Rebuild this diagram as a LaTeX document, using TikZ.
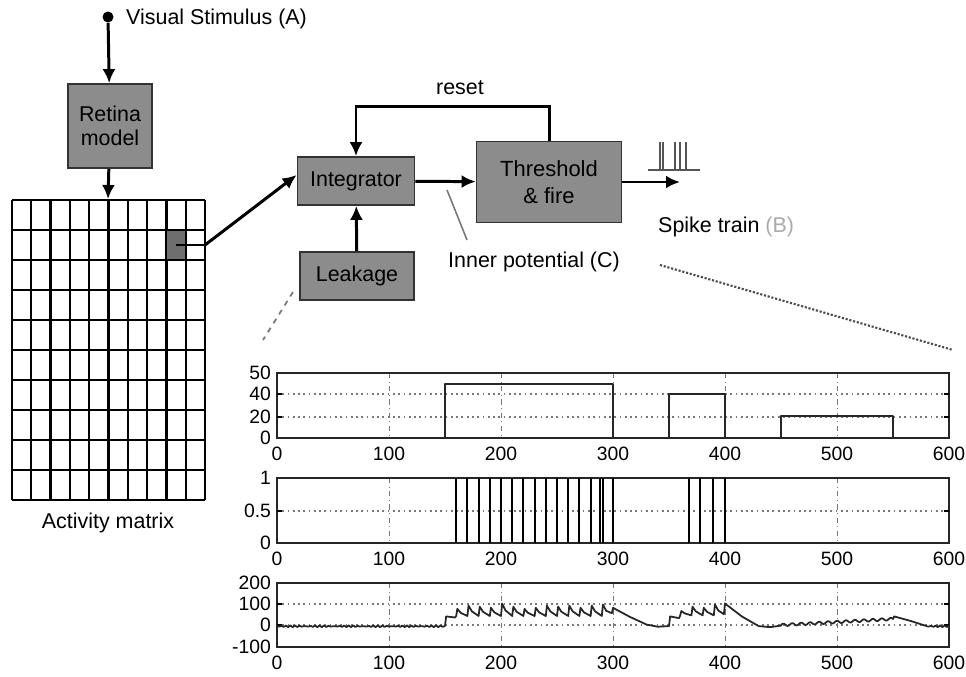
\documentclass[tikz,border=0pt]{standalone}
\usepackage{fontspec}
\setmainfont{Liberation Sans}
\usepackage{xcolor}
\usepackage{tikz}
\usetikzlibrary{arrows, arrows.meta, positioning, calc}
\definecolor{boxgray}{RGB}{140, 140, 140}
\definecolor{cellgray}{RGB}{110, 110, 110}
\definecolor{spikegray}{RGB}{85, 85, 85}
\definecolor{gridgray}{RGB}{120, 120, 120}
\definecolor{labelgray}{RGB}{170, 170, 170}

\begin{document}
\begin{tikzpicture}[x=0.02cm, y=-0.02cm,
    font=\fontsize{12.2}{14}\selectfont,
    block/.style={draw=black!80, fill=boxgray, line width=1pt,
                  align=center, inner sep=0pt},
    flow/.style={line width=1.7pt, -{Latex[length=2.8mm, width=2.6mm]}},
    frame/.style={draw=black!85, line width=1pt},
    vgrid/.style={gridgray, line width=0.5pt, dash dot},
    hgrid/.style={gridgray, line width=1pt, dotted},
    ticklbl/.style={font=\fontsize{11}{13}\selectfont, inner sep=1pt},
    trace/.style={black!85, line width=1pt, line join=round}]
    \useasboundingbox (0,0) rectangle (966,676);

    % Stimulus and retina
    \node[circle, fill, inner sep=0pt, minimum size=0.22cm] (stim) at (108,17) {};
    \node[anchor=west] (lblstim) at (120,19) {Visual Stimulus (A)};
    \node[block, minimum width=1.68cm, minimum height=1.68cm] (retina)
        at (110,126) {Retina\\model};

    % Activity matrix
    \foreach \i in {0,...,10} {
        \draw[line width=1.3pt] ({12+19.3*\i},200) -- ({12+19.3*\i},500);
        \draw[line width=1.3pt] (12,{200+30*\i}) -- (205,{200+30*\i});
    }
    \fill[cellgray] (167,231) rectangle (185,259);
    \coordinate (cell) at (176,245);
    \coordinate (matrixtop) at (108,199);
    \coordinate (cellout) at (205,245);
    \node (lblmatrix) at (108,523) {Activity matrix};

    % Neuron blocks
    \node[block, minimum width=2.34cm, minimum height=0.96cm] (integ)
        at (356,181) {Integrator};
    \node[block, minimum width=2.28cm, minimum height=0.96cm] (leak)
        at (357,276) {Leakage};
    \node[block, minimum width=2.9cm, minimum height=1.62cm,
          font=\fontsize{12.5}{15}\selectfont] (thresh)
        at (549,182) {Threshold\\\& fire};
    \node (lblreset) at (460,88) {reset};

    % Connectors
    \draw[flow] (stim) -- (retina);
    \draw[flow] (retina) -- (matrixtop);
    \draw[line width=1pt] (cell) -- (cellout);
    \draw[flow] (cellout) -- ($(integ.west)+(0,-6)$);
    \draw[flow] (leak) -- (integ);
    \draw[flow] (integ) -- (thresh);
    \draw[flow] (thresh.north) -- ++(0,-34) -| (integ.north);
    \coordinate (spkout) at (680,182);
    \draw[flow] (thresh.east |- spkout) -- (spkout);

    % Spike train icon
    \draw[spikegray, line width=1.2pt] (648,170) -- (700,170);
    \foreach \s in {660,663,675,680,686}
        \draw[spikegray, line width=1.2pt] (\s,170) -- (\s,142);
    \node[anchor=west] (lblspike) at (652,227)
        {Spike train \textcolor{labelgray}{(B)}};

    % Inner potential
    \node[anchor=west] (lblinner) at (442,262) {Inner potential (C)};
    \coordinate (innera) at (447,190);
    \coordinate (innerb) at (467,240);
    \draw[gridgray, line width=0.9pt] (innera) -- (innerb);

    % Zoom lines
    \coordinate (leaka) at (293,292);
    \coordinate (leakb) at (263,340);
    \draw[gridgray, line width=1pt, dashed] (leaka) -- (leakb);
    \coordinate (spka) at (660,265);
    \coordinate (spkb) at (953,350);
    \draw[black!70, line width=1.2pt, densely dotted] (spka) -- (spkb);

    % Plot axes and grids
    \foreach \top/\bot in {373/438, 478/543, 583/647} {
        \foreach \k in {1,...,5}
            \draw[vgrid] ({277+112*\k},\top) -- ({277+112*\k},\bot);
        \draw[frame] (277,\top) rectangle (949,\bot);
        \foreach \k in {0,...,6}
            \node[ticklbl] at ({277+112*\k},{\bot+16}) {\pgfmathparse{int(100*\k)}\pgfmathresult};
    }
    \foreach \y in {394,417,511,604,625} {
        \draw[hgrid] (277,\y) -- (949,\y);
        \draw[line width=1.2pt] (277,\y) -- (282,\y);
        \draw[line width=1.2pt] (944,\y) -- (949,\y);
    }
    \foreach \y/\t in {373/50, 394/40, 417/20, 438/0, 478/1, 511/0.5, 543/0,
                       583/200, 604/100, 625/0, 647/-100}
        \node[ticklbl, anchor=east] at (273,\y) {\t};

    % Input currents
    \begin{scope}[shift={(277,438)}, xscale=1.12, yscale=-1.1]
        \draw[trace] (0,0) -- (150,0) -- (150,49) -- (300,49)
            -- (300,0) -- (350,0) -- (350,40) -- (400,40) -- (400,0)
            -- (450,0) -- (450,20) -- (550,20) -- (550,0) -- (600,0);
    \end{scope}

    % Output spikes
    \begin{scope}[shift={(277,543)}, xscale=1.12, yscale=-65]
        \foreach \s in {160,170,180,190,200,210,220,230,240,250,260,270,280,
                        288,291,300,368,378,389,400}
            \draw[line width=1.2pt] (\s,0) -- (\s,1);
    \end{scope}

    % Inner potential trace
    \begin{scope}[shift={(277,625)}, xscale=1.12, yscale=-0.215]
        \draw[trace] plot[domain=0:150, samples=76] (\x,{-6+4*sin(\x*97)})
            -- (151,40) -- (159,35)
            \foreach \t/\p in {160/75,170/90,180/85,190/80,200/100,210/85,
                               220/75,230/80,240/90,250/85,260/90,270/80,
                               280/90,290/95}
                { -- (\t,42) -- (\t+1,\p) -- (\t+4,{0.45*\p+23}) }
            -- (299,55) -- (300,80) -- (315,38) -- (330,2) -- (340,-8)
            -- (350,-5) -- (351,40) -- (359,32)
            \foreach \t/\p in {360/65,370/85,380/80,390/95}
                { -- (\t,45) -- (\t+1,\p) -- (\t+4,{0.45*\p+25}) }
            -- (399,50) -- (400,100) -- (415,40) -- (430,-5) -- (440,-10)
            -- (450,-3)
            -- plot[domain=450:550, samples=101] (\x,{(\x-450)*0.28+6*sin((\x-450)*45)})
            -- (551,40) -- (565,20) -- (580,-5)
            -- plot[domain=580:600, samples=11] (\x,{-6+4*sin((\x-580)*97)});
    \end{scope}
\end{tikzpicture}
\end{document}
